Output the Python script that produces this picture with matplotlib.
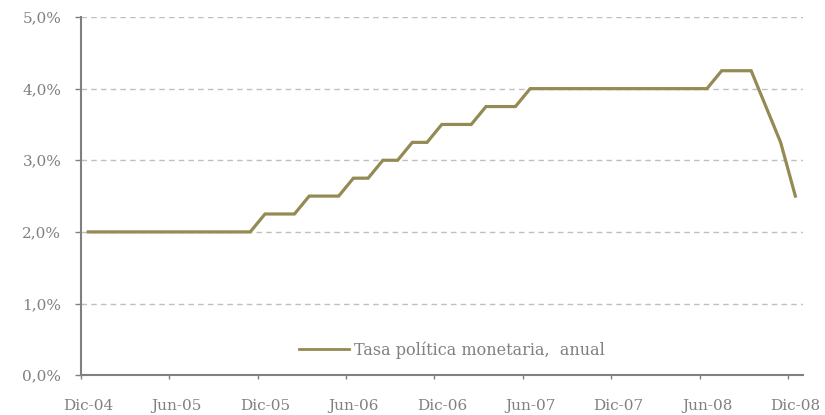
import matplotlib
matplotlib.use("Agg")
import matplotlib.pyplot as plt
from matplotlib.ticker import FixedLocator, FuncFormatter
import numpy as np

# monthly data, Dic-04 .. Dic-08
months = ["Dic-04", "Ene-05", "Feb-05", "Mar-05", "Abr-05", "May-05", "Jun-05",
          "Jul-05", "Ago-05", "Sep-05", "Oct-05", "Nov-05", "Dic-05",
          "Ene-06", "Feb-06", "Mar-06", "Abr-06", "May-06", "Jun-06",
          "Jul-06", "Ago-06", "Sep-06", "Oct-06", "Nov-06", "Dic-06",
          "Ene-07", "Feb-07", "Mar-07", "Abr-07", "May-07", "Jun-07",
          "Jul-07", "Ago-07", "Sep-07", "Oct-07", "Nov-07", "Dic-07",
          "Ene-08", "Feb-08", "Mar-08", "Abr-08", "May-08", "Jun-08",
          "Jul-08", "Ago-08", "Sep-08", "Oct-08", "Nov-08", "Dic-08"]
tasa = [2.0] * 12 + [2.25] * 3 + [2.5] * 3 + [2.75] * 2 + [3.0] * 2 + \
       [3.25] * 2 + [3.5] * 3 + [3.75] * 3 + [4.0] * 13 + [4.25] * 3 + \
       [3.75, 3.25, 2.5]
tick_labels = ["Dic-04", "Jun-05", "Dic-05", "Jun-06", "Dic-06",
               "Jun-07", "Dic-07", "Jun-08", "Dic-08"]
serie_name = "Tasa política monetaria,  anual"

gray = "#808080"
plt.rcParams['font.family'] = ['DejaVu Serif']

fig = plt.figure(figsize=(8.25, 4.15), dpi=100)
ax = fig.add_axes([0.098, 0.096, 0.875, 0.863])

x = np.arange(len(months))
ax.plot(x, tasa, color="#948A54", linewidth=2.3, label=serie_name,
        solid_joinstyle="miter")

ax.set_xlim(-0.5, len(months) - 0.5)
ax.set_ylim(0, 5)

# labels at category centres, tick marks at boundaries
label_pos = [months.index(t) for t in tick_labels]
ax.xaxis.set_major_locator(FixedLocator(label_pos))
ax.set_xticklabels(tick_labels)
ax.xaxis.set_minor_locator(FixedLocator([p - 0.5 for p in label_pos]))
ax.tick_params(axis="x", which="major", length=0, pad=17,
               labelsize=11, labelcolor=gray)
ax.tick_params(axis="x", which="minor", length=3, width=1, color=gray)

ax.set_yticks(np.arange(0, 5.01, 1))
ax.yaxis.set_major_formatter(FuncFormatter(lambda v, p: f"{v:.1f}%".replace(".", ",")))
ax.tick_params(axis="y", length=4, width=1, color=gray, pad=10,
               labelsize=11, labelcolor=gray)

ax.grid(axis="y", color="#BFBFBF", linestyle=(0, (4, 3)), linewidth=1)
ax.set_axisbelow(True)

for s in ["top", "right"]:
    ax.spines[s].set_visible(False)
for s in ["left", "bottom"]:
    ax.spines[s].set_color(gray)
    ax.spines[s].set_linewidth(1.5)

leg = ax.legend(loc="center", bbox_to_anchor=(0.514, 0.07), frameon=False,
                fontsize=11.5, handlelength=3.1, handletextpad=0.3)
for t in leg.get_texts():
    t.set_color(gray)
leg.get_lines()[0].set_linewidth(2)

fig.savefig("out.png", dpi=100, facecolor="white")
